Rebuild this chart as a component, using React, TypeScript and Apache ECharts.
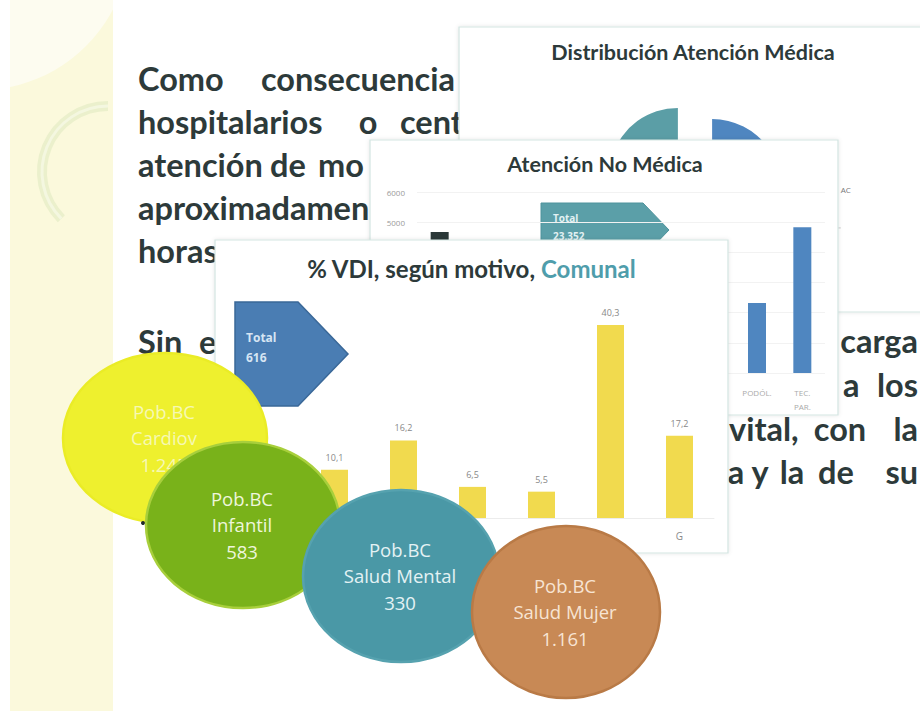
import React, { useEffect, useRef } from "react";
import * as echarts from "echarts";

// ---------- data ----------
const vdiCategories = ["A", "B", "C", "D", "E", "F", "G"];
const vdiValues = [4.2, 10.1, 16.2, 6.5, 5.5, 40.3, 17.2];
const vdiTotal = "616";

const anmCategories = ["", "", "", "", "", "", "", "PODÓL.", "TEC.\nPAR."];
const anmValues: (number | null)[] = [4670, null, null, null, null, null, null, 2320, 4830];
const anmTotal = "23.352";
const anmMax = 6000;
const anmInterval = 1000;
const anmShownTicks = [5000, 6000];

const distNames = ["AC", "Otros"];
const distValues = [60, 40];

const bubbleGroups = ["Cardiov", "Infantil", "Salud Mental", "Salud Mujer"];
const bubbleCounts = ["1.245", "583", "330", "1.161"];

// ---------- layout / style ----------
const DARK = "#2d3a3a";
const FONT_BODY = "Lato";

const bodyWords: { t: string; x: number; y: number; a: string }[] = [
  { t: "Como", x: 138, y: 78, a: "left" },
  { t: "consecuencia", x: 455, y: 78, a: "right" },
  { t: "hospitalarios", x: 138, y: 121, a: "left" },
  { t: "o", x: 368, y: 121, a: "center" },
  { t: "centros", x: 400, y: 121, a: "left" },
  { t: "atención", x: 138, y: 164, a: "left" },
  { t: "de", x: 270, y: 164, a: "left" },
  { t: "mo", x: 318, y: 164, a: "left" },
  { t: "aproximadamen", x: 138, y: 207, a: "left" },
  { t: "horas", x: 138, y: 250, a: "left" },
  { t: "Sin", x: 138, y: 341, a: "left" },
  { t: "em", x: 199, y: 341, a: "left" },
  { t: "carga", x: 918, y: 340, a: "right" },
  { t: "a", x: 843, y: 384, a: "left" },
  { t: "los", x: 918, y: 384, a: "right" },
  { t: "vital,", x: 729, y: 428, a: "left" },
  { t: "con", x: 840, y: 428, a: "center" },
  { t: "la", x: 918, y: 428, a: "right" },
  { t: "a", x: 736, y: 471, a: "center" },
  { t: "y", x: 760, y: 471, a: "center" },
  { t: "la", x: 792, y: 471, a: "center" },
  { t: "de", x: 836, y: 471, a: "center" },
  { t: "su", x: 918, y: 471, a: "right" },
];

const bubbleShapes = [
  { cx: 165, cy: 438, rx: 102, ry: 85, fill: "#eef02e", stroke: "#eaec26", text: "#f6f8b4" },
  { cx: 243, cy: 525, rx: 97, ry: 83, fill: "#79b21a", stroke: "#a8cf3c", text: "#eef6dc" },
  { cx: 401, cy: 576, rx: 98, ry: 86, fill: "#4a98a6", stroke: "#56a2af", text: "#e4f2f4" },
  { cx: 566, cy: 612, rx: 94, ry: 86, fill: "#c88955", stroke: "#b97a46", text: "#f7e4d3" },
];

function txt(
  text: string,
  x: number,
  y: number,
  o: { z: number; size: number; color: string; align?: string; weight?: string; family?: string }
) {
  const align = o.align || "left";
  return {
    type: "text",
    x,
    y,
    z: o.z,
    silent: true,
    style: {
      text,
      fill: o.color,
      fontSize: o.size,
      fontFamily: o.family || FONT_BODY,
      fontWeight: o.weight || "normal",
      align,
      verticalAlign: "middle",
      textAlign: align,
      textVerticalAlign: "middle",
    },
  };
}

function card(x: number, y: number, w: number, h: number, z: number) {
  return {
    type: "rect",
    z,
    silent: true,
    shape: { x, y, width: w, height: h },
    style: {
      fill: "#ffffff",
      stroke: "#d3e5e2",
      lineWidth: 1.2,
      shadowBlur: 4,
      shadowColor: "rgba(0,0,0,0.10)",
    },
  };
}

function buildGraphic() {
  const g: any[] = [];
  // left decorative strip
  g.push({ type: "rect", z: 0, silent: true, shape: { x: 10, y: 5, width: 103, height: 706 }, style: { fill: "#fbf9dc" } });
  g.push({
    type: "circle", z: 0, silent: true,
    shape: { cx: -20, cy: -60, r: 150 },
    style: { fill: "#fdfcf0" },
  });
  g.push({ type: "rect", z: 0, silent: true, shape: { x: 113, y: 0, width: 30, height: 120 }, style: { fill: "#ffffff" } });
  g.push({ type: "rect", z: 0, silent: true, shape: { x: 0, y: 0, width: 10, height: 120 }, style: { fill: "#ffffff" } });
  g.push({
    type: "arc", z: 0, silent: true,
    shape: { cx: 108, cy: 172, r: 66, startAngle: Math.PI * 0.75, endAngle: Math.PI * 1.5, clockwise: true },
    style: { fill: "none", stroke: "#ebf0cc", lineWidth: 10 },
  });
  g.push({
    type: "arc", z: 0, silent: true,
    shape: { cx: 108, cy: 172, r: 66, startAngle: Math.PI * 0.75, endAngle: Math.PI * 1.5, clockwise: true },
    style: { fill: "none", stroke: "#f4f7e0", lineWidth: 3 },
  });

  // body text
  bodyWords.forEach((w) => g.push(txt(w.t, w.x, w.y, { z: 1, size: 32.5, color: DARK, align: w.a, weight: "bold" })));

  // Distribution card
  g.push(card(459, 27, 470, 285, 2));
  g.push(txt("Distribución Atención Médica", 693, 52, { z: 3, size: 21.5, color: DARK, align: "center", weight: "bold" }));

  // ANM card
  g.push(card(370, 140, 468, 275, 4));
  g.push(txt("Atención No Médica", 605, 164, { z: 5, size: 21.5, color: DARK, align: "center", weight: "bold" }));
  g.push({
    type: "polygon", z: 5, silent: true,
    shape: { points: [[541, 203], [643, 203], [669, 230], [643, 257], [541, 257]] },
    style: { fill: "#5b9fa8", stroke: "#4f939c", lineWidth: 1 },
  });
  g.push(txt("Total", 553, 218, { z: 5, size: 10, color: "#e2f1f3", weight: "bold", family: "Open Sans" }));
  g.push(txt(anmTotal, 553, 236, { z: 5, size: 10, color: "#e2f1f3", weight: "bold", family: "Open Sans" }));

  // VDI card
  g.push(card(215, 240, 513, 313, 6));
  g.push(txt("% VDI, según motivo,", 535, 268, { z: 7, size: 24, color: DARK, align: "right", weight: "bold" }));
  g.push(txt("Comunal", 541, 268, { z: 7, size: 24, color: "#4f9dab", align: "left", weight: "bold" }));
  g.push({
    type: "polygon", z: 7, silent: true,
    shape: { points: [[235, 302], [298, 302], [348, 354], [298, 406], [235, 406]] },
    style: { fill: "#4a7db3", stroke: "#3a6898", lineWidth: 1.5 },
  });
  g.push(txt("Total", 246, 337, { z: 7, size: 12, color: "#d6e5f3", weight: "bold", family: "Open Sans" }));
  g.push(txt(vdiTotal, 246, 357, { z: 7, size: 12, color: "#d6e5f3", weight: "bold", family: "Open Sans" }));

  // bubbles
  bubbleShapes.forEach((b, i) => {
    const z = 8 + i * 2;
    g.push({
      type: "ellipse", z, silent: true,
      shape: { cx: b.cx, cy: b.cy, rx: b.rx, ry: b.ry },
      style: { fill: b.fill, stroke: b.stroke, lineWidth: 2.5 },
    });
    const lines = ["Pob.BC", bubbleGroups[i], bubbleCounts[i]];
    lines.forEach((l, k) =>
      g.push(txt(l, b.cx - 1, b.cy - 27 + k * 26.5, { z: z + 1, size: 18.5, color: b.text, align: "center", family: "Open Sans", weight: "500" }))
    );
    if (i === 0) {
      g.push({ type: "circle", z: z + 1, silent: true, shape: { cx: 143, cy: 523, r: 2 }, style: { fill: "#1f2a2a" } });
    }
  });
  return g;
}

function buildOption() {
  return {
    animation: false,
    backgroundColor: "#ffffff",
    grid: [
      { left: 231, top: 302.5, width: 483, height: 215.5, z: 7 },
      { left: 417, top: 192, width: 408, height: 181, z: 5 },
    ],
    xAxis: [
      {
        type: "category", gridIndex: 0, data: vdiCategories, z: 7,
        axisLine: { lineStyle: { color: "#ececec" } },
        axisTick: { show: false },
        axisLabel: {
          interval: (i: number) => i === vdiCategories.length - 1,
          color: "#8a8a8a", fontSize: 10, margin: 13, fontFamily: "Open Sans",
        },
      },
      {
        type: "category", gridIndex: 1, data: anmCategories, z: 5,
        axisLine: { show: false }, axisTick: { show: false },
        axisLabel: { interval: 0, color: "#aaaaaa", fontSize: 8, margin: 12, lineHeight: 14, fontFamily: "Open Sans" },
      },
    ],
    yAxis: [
      { type: "value", gridIndex: 0, min: 0, max: 45, show: false },
      {
        type: "value", gridIndex: 1, min: 0, max: anmMax, interval: anmInterval, z: 5,
        axisLabel: {
          color: "#9a9a9a", fontSize: 8, margin: 12, fontFamily: "Open Sans",
          formatter: (v: number) => (anmShownTicks.indexOf(v) >= 0 ? String(v) : ""),
        },
        splitLine: { lineStyle: { color: "#f2f2f2" } },
      },
    ],
    series: [
      {
        type: "pie", z: 3, center: [695, 182.5], radius: 69, startAngle: 90, clockwise: true,
        selectedMode: "multiple", selectedOffset: 18,
        data: distNames.map((n, i) => ({
          name: n, value: distValues[i], selected: true,
          itemStyle: { color: i === 0 ? "#4f86c0" : "#5b9ea6" },
          label: { show: i === 0 },
          labelLine: { show: i === 0 },
        })),
        label: { show: true, position: "outside", color: "#777", fontSize: 8, fontFamily: "Open Sans" },
        labelLine: { length: 60, length2: 6, lineStyle: { color: "#cccccc" } },
        labelLayout: () => ({ dx: -5, dy: -38 }),
      },
      {
        type: "bar", xAxisIndex: 1, yAxisIndex: 1, z: 5, barWidth: 18,
        data: anmValues.map((v, i) => ({ value: v, itemStyle: { color: i === 0 ? "#2b3838" : "#4f86c0" } })),
      },
      {
        type: "bar", xAxisIndex: 0, yAxisIndex: 0, z: 7, barWidth: 27,
        data: vdiValues.map((v, i) => ({ value: v, label: { show: i > 0 } })),
        itemStyle: { color: "#f1da4e" },
        label: {
          show: true, position: "top", distance: 8, color: "#888", fontSize: 9, fontFamily: "Open Sans",
          formatter: (p: any) => String(p.value).replace(".", ","),
        },
      },
    ],
    graphic: buildGraphic(),
  };
}

export default function App() {
  const ref = useRef<HTMLDivElement>(null);
  useEffect(() => {
    const chart = echarts.init(ref.current as HTMLDivElement, undefined, { renderer: "svg" });
    chart.setOption(buildOption() as any);
    return () => chart.dispose();
  }, []);
  return (
    <div
      ref={ref}
      style={{ position: "absolute", left: 0, top: 0, width: 920, height: 711, background: "#ffffff" }}
    />
  );
}
